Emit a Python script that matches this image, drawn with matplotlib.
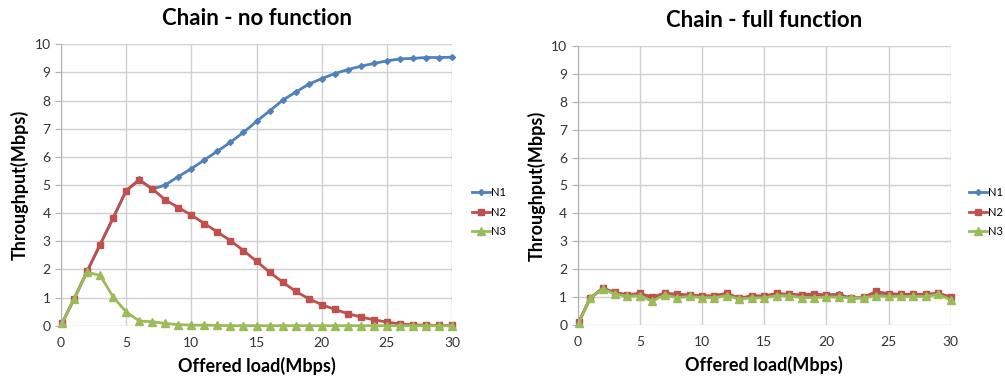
import matplotlib
matplotlib.use('Agg')
import matplotlib.pyplot as plt

plt.rcParams['font.family'] = ['Lato', 'DejaVu Sans']

# offered load (Mbps)
x = [0.1] + list(range(1, 31))

# Chain - no function
n1_nf = [0.1, 0.95, 1.93, 2.88, 3.83, 4.8, 5.2, 4.85, 5.0, 5.3, 5.58, 5.89, 6.2,
         6.52, 6.87, 7.26, 7.63, 8.01, 8.3, 8.58, 8.78, 8.96, 9.1, 9.22, 9.32,
         9.41, 9.48, 9.5, 9.53, 9.53, 9.54]
n2_nf = [0.1, 0.95, 1.93, 2.88, 3.83, 4.8, 5.17, 4.87, 4.47, 4.2, 3.93, 3.63, 3.33,
         3.02, 2.67, 2.29, 1.9, 1.55, 1.22, 0.96, 0.75, 0.58, 0.43, 0.31, 0.21,
         0.13, 0.06, 0.03, 0.02, 0.01, 0.01]
n3_nf = [0.1, 0.95, 1.9, 1.79, 1.02, 0.49, 0.17, 0.14, 0.08, 0.04, 0.02, 0.02, 0.01,
         0.0, 0.0, 0.0, 0.0, 0.0, 0.0, 0.0, 0.0, 0.0, 0.0, 0.0, 0.0,
         0.0, 0.0, 0.0, 0.0, 0.0, 0.0]

# Chain - full function
n1_ff = [0.1, 0.95, 1.31, 1.14, 1.06, 1.1, 0.97, 1.12, 1.05, 1.06, 1.02, 1.02, 1.1,
         0.95, 1.02, 1.01, 1.1, 1.08, 1.04, 1.06, 1.08, 1.1, 0.96, 0.98, 1.12,
         1.08, 1.07, 1.07, 1.07, 1.13, 0.97]
n2_ff = [0.12, 0.96, 1.32, 1.17, 1.08, 1.13, 1.0, 1.14, 1.1, 1.08, 1.04, 1.05, 1.14,
         0.95, 1.05, 1.04, 1.13, 1.1, 1.08, 1.11, 1.07, 1.06, 0.96, 0.99, 1.2,
         1.12, 1.1, 1.1, 1.1, 1.14, 1.0]
n3_ff = [0.08, 0.95, 1.3, 1.1, 1.03, 1.05, 0.85, 1.08, 0.98, 1.02, 0.98, 0.98, 1.05,
         0.93, 0.97, 0.97, 1.05, 1.05, 0.98, 0.98, 1.0, 1.0, 0.96, 0.97, 1.05,
         1.02, 1.02, 1.02, 1.02, 1.1, 0.9]

labels = ['N1', 'N2', 'N3']
colors = ['#4F81BD', '#C0504D', '#9BBB59']
markers = ['D', 's', '^']
msizes = [3, 5, 5.5]

fig = plt.figure(figsize=(10.05, 3.85), dpi=100)
ax1 = fig.add_axes([0.0607, 0.154, 0.3891, 0.731])
ax2 = fig.add_axes([0.5748, 0.156, 0.3712, 0.7245])


def draw(ax, series, title, legx):
    lines = []
    for ys, lab, c, m, ms in zip(series, labels, colors, markers, msizes):
        ln, = ax.plot(x, ys, color=c, marker=m, markersize=ms, linewidth=2, label=lab,
                      clip_on=False)
        lines.append(ln)
    ax.set_xlim(0, 30)
    ax.set_ylim(0, 10)
    ax.set_xticks(range(0, 31, 5))
    ax.set_yticks(range(0, 11))
    ax.grid(True, color='#d0d0d0', linewidth=1)
    ax.set_axisbelow(True)
    for s in ['top', 'right', 'bottom']:
        ax.spines[s].set_visible(False)
    ax.spines['left'].set_color('#b0b0b0')
    ax.tick_params(axis='y', length=4, color='#b0b0b0', labelsize=10, labelcolor='#333333')
    ax.tick_params(axis='x', length=0, labelsize=10, labelcolor='#333333', pad=8)
    ax.set_title(title, fontsize=16, fontweight='bold', pad=14)
    ax.set_xlabel('Offered load(Mbps)', fontsize=13, fontweight='bold', labelpad=6)
    ax.set_ylabel('Throughput(Mbps)', fontsize=13, fontweight='bold', labelpad=4)
    fig.legend(handles=lines, loc='center left', bbox_to_anchor=(legx, 0.449),
               bbox_transform=fig.transFigure, frameon=False, fontsize=8,
               handlelength=1.6, handletextpad=0.15, labelspacing=0.75,
               borderpad=0, borderaxespad=0)


draw(ax1, [n1_nf, n2_nf, n3_nf], 'Chain - no function', 472 / 1005)
draw(ax2, [n1_ff, n2_ff, n3_ff], 'Chain - full function', 969 / 1005)

fig.savefig('out.png', dpi=100)
